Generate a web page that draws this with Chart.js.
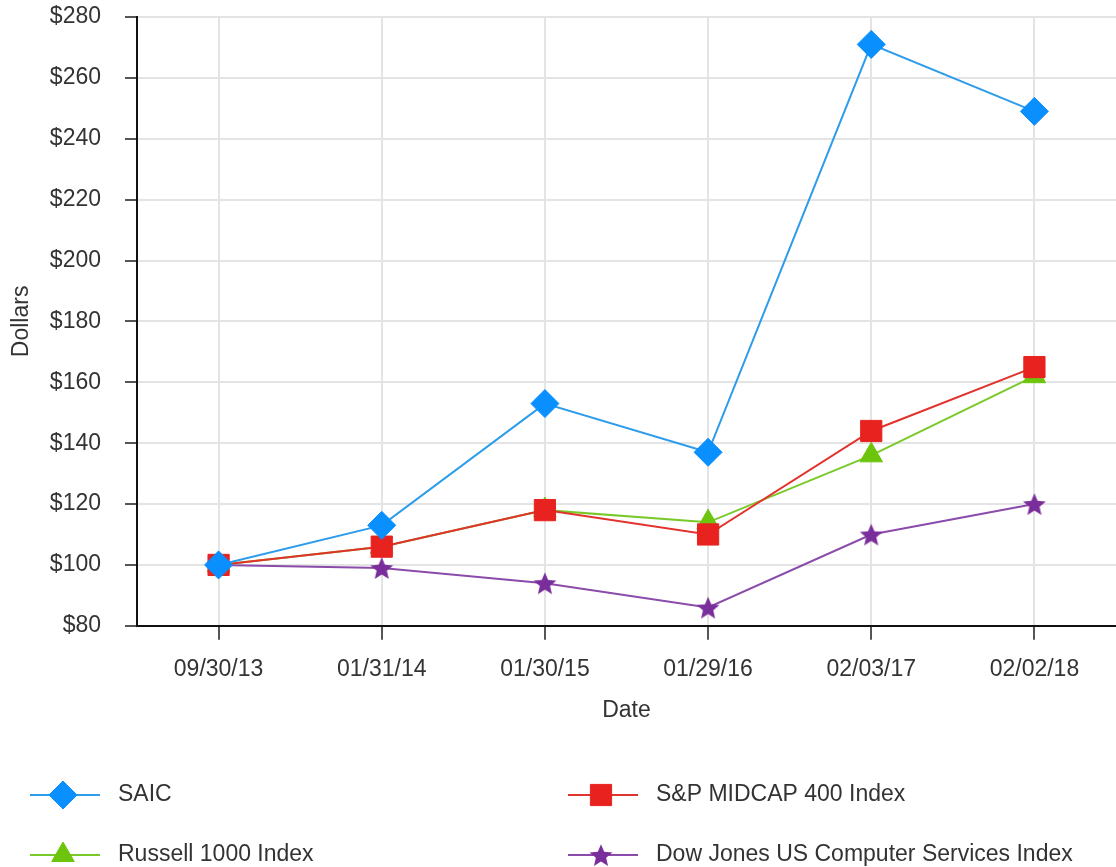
<!DOCTYPE html>
<html>
<head>
<meta charset="utf-8">
<script src="https://cdn.jsdelivr.net/npm/chart.js@4"></script>
<style>
  html, body { margin: 0; padding: 0; background: #fff; overflow: hidden; }
  #wrap { width: 1116px; height: 867px; }
  canvas { display: block; }
</style>
</head>
<body>
<div id="wrap"><canvas id="perfChart" width="1116" height="867"></canvas></div>
<script>
// dates on the x axis
const dates = ['09/30/13', '01/31/14', '01/30/15', '01/29/16', '02/03/17', '02/02/18'];

// cumulative value of $100 invested
const saic = [100, 113, 153, 137, 271, 249];
const spMidcap = [100, 106, 118, 110, 144, 165];
const russell = [100, 106, 118, 114, 136, 162];
const dowJones = [100, 99, 94, 86, 110, 120];

// y axis range
const yMin = 80;
const yMax = 280;
const yStep = 20;

const FONT = '"Liberation Sans", Arial, sans-serif';
const TEXT = '#333';

// Chart.js 'star' is only lines, so make a filled star picture
function makeStar(color, outer) {
    const inner = outer * 0.45;
    const c = document.createElement('canvas');
    c.width = outer * 2 + 2;
    c.height = outer * 2 + 2;
    const ctx = c.getContext('2d');
    ctx.translate(c.width / 2, c.height / 2 + outer * 0.1);
    ctx.beginPath();
    for (let i = 0; i < 10; i++) {
        const r = i % 2 === 0 ? outer : inner;
        const a = -Math.PI / 2 + i * Math.PI / 5;
        ctx.lineTo(Math.cos(a) * r, Math.sin(a) * r);
    }
    ctx.closePath();
    ctx.fillStyle = color;
    ctx.fill();
    return c;
}
const starImg = makeStar('#7a2e9c', 12);

const datasets = [
    {
        label: 'SAIC',
        data: saic,
        borderColor: '#2c9ceb',
        backgroundColor: '#0a8fff',
        pointBorderColor: '#0a8fff',
        pointStyle: 'rectRot',
        pointRadius: 14,
        order: 1
    },
    {
        label: 'S&P MIDCAP 400 Index',
        data: spMidcap,
        borderColor: '#e2322c',
        backgroundColor: '#e8231f',
        pointBorderColor: '#e8231f',
        pointStyle: 'rect',
        pointRadius: 15,
        order: 2
    },
    {
        label: 'Russell 1000 Index',
        data: russell,
        borderColor: '#79c92b',
        backgroundColor: '#6cc50c',
        pointBorderColor: '#6cc50c',
        pointStyle: 'triangle',
        pointRadius: 13,
        order: 3
    },
    {
        label: 'Dow Jones US Computer Services Index',
        data: dowJones,
        borderColor: '#8b4bab',
        backgroundColor: '#7a2e9c',
        pointBorderColor: '#7a2e9c',
        pointStyle: starImg,
        pointRadius: 12,
        order: 4
    }
];

// legend in two columns under the chart
const legendPlugin = {
    id: 'twoColLegend',
    afterDraw(chart) {
        const ctx = chart.ctx;
        const cols = [30, 568];
        const rows = [795, 855];
        ctx.save();
        chart.data.datasets.forEach((ds, i) => {
            const x = cols[i % 2];
            const y = rows[Math.floor(i / 2)];
            ctx.strokeStyle = ds.borderColor;
            ctx.lineWidth = 2;
            ctx.beginPath();
            ctx.moveTo(x, y);
            ctx.lineTo(x + 70, y);
            ctx.stroke();
            ctx.fillStyle = ds.backgroundColor;
            ctx.strokeStyle = ds.pointBorderColor;
            ctx.lineWidth = 1;
            Chart.helpers.drawPoint(ctx, {
                pointStyle: ds.pointStyle,
                radius: ds.pointRadius,
                borderWidth: 1,
                rotation: 0
            }, x + 33, y);
            ctx.fillStyle = TEXT;
            ctx.font = '23px ' + FONT;
            ctx.textBaseline = 'middle';
            ctx.textAlign = 'left';
            ctx.fillText(ds.label, x + 88, y);
        });
        ctx.restore();
    }
};

const config = {
    type: 'line',
    data: {
        labels: dates,
        datasets: datasets
    },
    options: {
        responsive: false,
        animation: false,
        layout: {
            autoPadding: false,
            padding: { top: 0, right: 0, bottom: 143, left: 0 }
        },
        elements: {
            line: { borderWidth: 2, tension: 0 },
            point: { borderWidth: 1, hoverRadius: 14 }
        },
        scales: {
            x: {
                offset: true,
                grid: {
                    offset: false,
                    color: '#e4e4e4',
                    lineWidth: 2,
                    tickColor: '#555',
                    tickLength: 14,
                    drawTicks: true
                },
                border: { color: '#111', width: 2 },
                ticks: {
                    color: TEXT,
                    font: { family: FONT, size: 23 },
                    padding: 16,
                    maxRotation: 0
                },
                title: {
                    display: true,
                    text: 'Date',
                    color: TEXT,
                    font: { family: FONT, size: 23 },
                    padding: { top: -3, bottom: 0 }
                }
            },
            y: {
                min: yMin,
                max: yMax,
                afterFit: scale => {
                    scale.width = 137;
                    scale.paddingTop = 17;
                    scale.paddingBottom = 0;
                },
                grid: {
                    color: '#e4e4e4',
                    lineWidth: 2,
                    tickColor: '#555',
                    tickLength: 12
                },
                border: { color: '#111', width: 2 },
                ticks: {
                    stepSize: yStep,
                    color: TEXT,
                    font: { family: FONT, size: 23 },
                    padding: 24,
                    callback: v => '$' + v
                },
                title: {
                    display: true,
                    text: 'Dollars',
                    color: TEXT,
                    font: { family: FONT, size: 23 },
                    padding: { top: 8, bottom: 0 }
                }
            }
        },
        plugins: {
            legend: { display: false },
            tooltip: { enabled: false }
        }
    },
    plugins: [legendPlugin]
};

const perfChart = new Chart(document.getElementById('perfChart'), config);
</script>
</body>
</html>
